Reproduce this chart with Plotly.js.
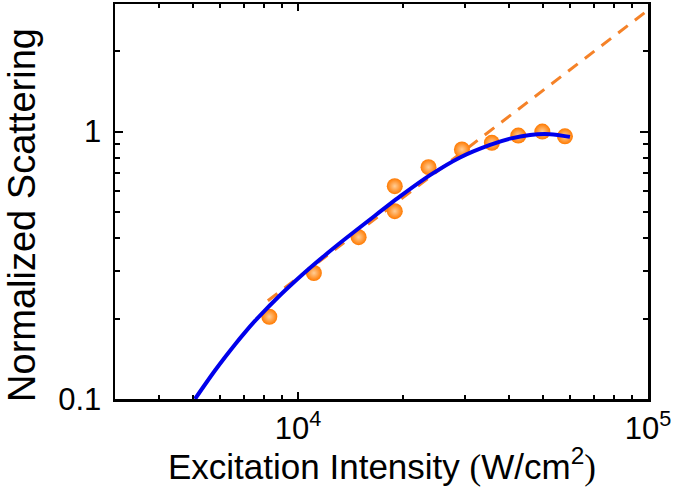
<!DOCTYPE html>
<html>
<head>
<meta charset="utf-8">
<script src="https://cdn.plot.ly/plotly-3.0.1.min.js"></script>
<style>html,body{margin:0;padding:0;background:#fff;}#chart{width:675px;height:491px;}</style>
</head>
<body>
<div id="chart"></div>
<script>
// Measured data (excitation intensity in W/cm^2, normalized scattering)
const dataX = [8280, 11100, 14900, 18900, 18900, 23600, 29400, 35800, 42600, 49900, 57900];
const dataY = [0.203, 0.296, 0.403, 0.504, 0.625, 0.736, 0.857, 0.908, 0.966, 1.0, 0.960];

// Fit curve (blue, solid)
const fitX = [5078, 5424, 5791, 6185, 6607, 7056, 7535, 8048, 8596, 9180, 10471, 11944, 13624, 16059, 19563, 23835, 29035, 35374, 40342, 46010, 52481, 59842];
const fitY = [0.1000, 0.1133, 0.1278, 0.1433, 0.1600, 0.1775, 0.1958, 0.2146, 0.2341, 0.2544, 0.2978, 0.3449, 0.3964, 0.4690, 0.5720, 0.6870, 0.8005, 0.8920, 0.9416, 0.9720, 0.9779, 0.9555];

// Linear reference (orange, dashed)
const linX = [8200, 100000];
const linY = [0.233, 2.845];

// Axis ticks and titles
const xTickVals = [1e4, 1e5];
const xTickText = ['10<sup>4</sup>', '10<sup>5</sup>'];
const xMinorVals = [4000, 5000, 6000, 7000, 8000, 9000, 20000, 30000, 40000, 50000, 60000, 70000, 80000, 90000];
const yTickVals = [0.1, 1];
const yTickText = ['0.1', '1'];
const yMinorVals = [0.2, 0.3, 0.4, 0.5, 0.6, 0.7, 0.8, 0.9, 2, 3];
const xTitle = 'Excitation Intensity <span style="font-family:\'Liberation Serif\',serif">(</span>W/cm<sup>2</sup><span style="font-family:\'Liberation Serif\',serif">)</span>';
const yTitle = 'Normalized Scattering';

const FONT = 'Arial, "Liberation Sans", sans-serif';

const traces = [
  {
    x: linX, y: linY, mode: 'lines', type: 'scatter',
    line: {color: 'rgb(245,130,40)', width: 3, dash: '12px,9px'},
    hoverinfo: 'skip', showlegend: false
  },
  {
    x: dataX, y: dataY, mode: 'markers', type: 'scatter',
    marker: {size: 16, color: 'rgb(255,122,0)', line: {width: 0},
             gradient: {type: 'radial', color: 'rgb(255,205,150)'}},
    showlegend: false
  },
  {
    x: fitX, y: fitY, mode: 'lines', type: 'scatter',
    line: {color: 'rgb(0,0,235)', width: 4, shape: 'spline', smoothing: 0.8},
    showlegend: false
  }
];

const layout = {
  width: 675, height: 491,
  margin: {l: 115, r: 27, t: 4, b: 92},
  paper_bgcolor: '#fff', plot_bgcolor: '#fff',
  font: {family: FONT, color: '#000'},
  showlegend: false,
  xaxis: {
    type: 'log', range: [Math.log10(3000), 5],
    tickmode: 'array', tickvals: xTickVals, ticktext: xTickText,
    ticks: 'inside', ticklen: 7, tickwidth: 2, tickcolor: '#000',
    showline: true, linecolor: '#000', linewidth: 2.5, mirror: 'ticks',
    showgrid: false, zeroline: false,
    tickfont: {size: 31, family: FONT},
    minor: {tickmode: 'array', tickvals: xMinorVals, ticks: 'inside', ticklen: 4, tickwidth: 2, tickcolor: '#000', showgrid: false}
  },
  yaxis: {
    type: 'log', range: [-1, Math.log10(3)],
    tickmode: 'array', tickvals: yTickVals, ticktext: yTickText,
    ticks: 'inside', ticklen: 8, tickwidth: 2, tickcolor: '#000',
    showline: true, linecolor: '#000', linewidth: 2.5, mirror: 'ticks',
    showgrid: false, zeroline: false, ticklabelstandoff: 5,
    tickfont: {size: 31, family: FONT},
    minor: {tickmode: 'array', tickvals: yMinorVals, ticks: 'inside', ticklen: 5, tickwidth: 2, tickcolor: '#000', showgrid: false}
  },
  annotations: [
    {
      text: xTitle, xref: 'paper', yref: 'paper', x: 0.5, y: -0.165,
      xanchor: 'center', yanchor: 'middle', showarrow: false,
      font: {size: 35, family: FONT, color: '#000'}
    },
    {
      text: yTitle, xref: 'paper', yref: 'paper', x: -0.1745, y: 0.466,
      xanchor: 'center', yanchor: 'middle', textangle: -90, showarrow: false,
      font: {size: 38, family: FONT, color: '#000'}
    }
  ]
};

Plotly.newPlot('chart', traces, layout, {displayModeBar: false, staticPlot: true});
</script>
</body>
</html>
